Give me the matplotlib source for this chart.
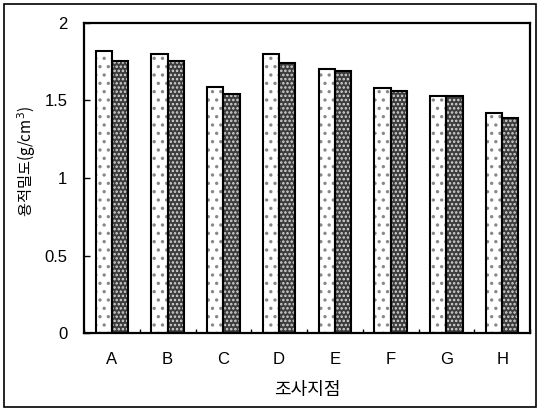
import matplotlib
matplotlib.use("Agg")
import matplotlib.pyplot as plt
from matplotlib.patches import Rectangle
import numpy as np

plt.rcParams['font.family'] = ['Noto Sans CJK KR', 'DejaVu Sans']
plt.rcParams['hatch.linewidth'] = 1.2

categories = ['A', 'B', 'C', 'D', 'E', 'F', 'G', 'H']
series1 = [1.82, 1.80, 1.59, 1.80, 1.70, 1.58, 1.53, 1.42]
series2 = [1.755, 1.755, 1.54, 1.74, 1.69, 1.56, 1.53, 1.39]
yticks = [0, 0.5, 1, 1.5, 2]
ytick_labels = ['0', '0.5', '1', '1.5', '2']

fig = plt.figure(figsize=(5.4, 4.11), dpi=100)
ax = fig.add_axes([84/540, 1-333/411, (530-84)/540, (333-23)/411])

x = np.arange(len(categories))
w = 0.29
# light dotted bars
ax.bar(x - w/2, series1, w, facecolor='white', edgecolor='#888888', hatch='..', linewidth=0, zorder=2)
ax.bar(x - w/2, series1, w, facecolor='none', edgecolor='black', linewidth=1.5, zorder=3)
# dark bars
ax.bar(x + w/2, series2, w, facecolor='#3c3c3c', edgecolor='#d8d8d8', hatch='....', linewidth=0, zorder=2)
ax.bar(x + w/2, series2, w, facecolor='none', edgecolor='black', linewidth=1.5, zorder=3)

ax.set_xlim(-0.5, len(categories) - 0.5)
ax.set_ylim(0, 2)
ax.set_yticks(yticks)
ax.set_yticklabels(ytick_labels, family=['Liberation Sans'], fontsize=12)
ax.set_xticks(x)
ax.set_xticklabels(categories, family=['Liberation Sans'], fontsize=12)
ax.tick_params(axis='x', length=0, pad=14)
ax.tick_params(axis='y', direction='in', length=4, width=1, pad=12)
ax.set_xticks(np.arange(len(categories) + 1) - 0.5, minor=True)
ax.tick_params(axis='x', which='minor', direction='in', length=3, width=1)
for s in ax.spines.values():
    s.set_linewidth(1.6)

ax.set_xlabel('조사지점', fontsize=13)
ax.xaxis.set_label_coords(0.5, -(390-333)/310, transform=ax.transAxes)
ax.xaxis.label.set_verticalalignment('center')
ax.set_ylabel('용적밀도(g/cm$^3$)', fontsize=11)
ax.yaxis.set_label_coords(-(84-27)/446, (333-161)/310, transform=ax.transAxes)
ax.yaxis.label.set_verticalalignment('center')

fig.patches.append(Rectangle((4/540, 4/411), 532/540, 403/411, transform=fig.transFigure,
                             fill=False, edgecolor='black', linewidth=1.2))

fig.savefig('out.png', dpi=100)
